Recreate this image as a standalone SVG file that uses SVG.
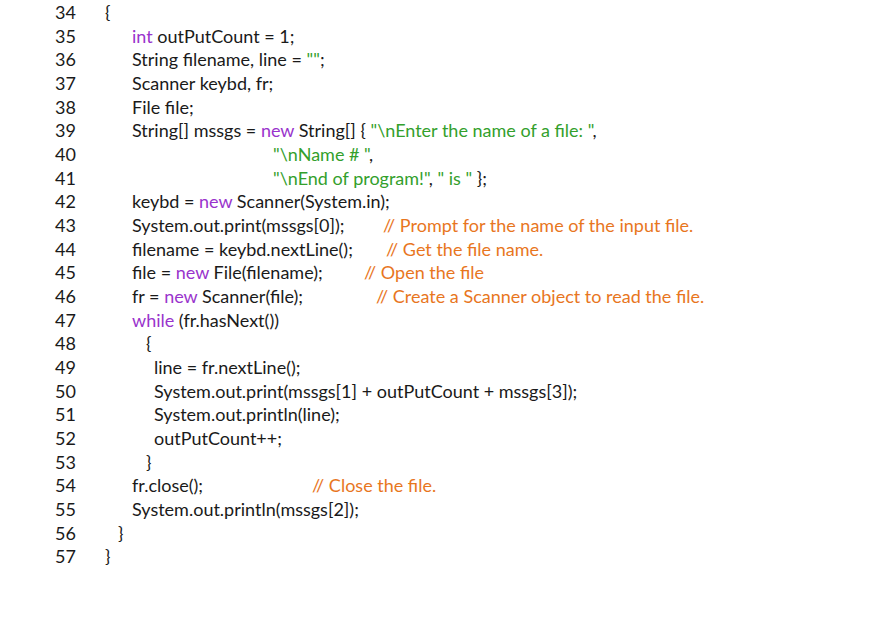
<svg xmlns="http://www.w3.org/2000/svg" width="869" height="632" viewBox="0 0 869 632">
<style>
text{font-family:Lato,"Open Sans",sans-serif;font-size:18px;fill:#1a1a1a;white-space:pre}
.k{fill:#9933cc}.s{fill:#33a02c}.c{fill:#e8761e}
</style>
<rect width="869" height="632" fill="#fff"/>
<g id="numbers">
<text x="55" y="19">34</text><text x="55" y="43">35</text><text x="55" y="66">36</text><text x="55" y="90">37</text><text x="55" y="114">38</text><text x="55" y="137">39</text><text x="55" y="161">40</text><text x="55" y="185">41</text><text x="55" y="208">42</text><text x="55" y="232">43</text><text x="55" y="256">44</text><text x="55" y="279">45</text><text x="55" y="303">46</text><text x="55" y="327">47</text><text x="55" y="350">48</text><text x="55" y="374">49</text><text x="55" y="398">50</text><text x="55" y="421">51</text><text x="55" y="445">52</text><text x="55" y="469">53</text><text x="55" y="492">54</text><text x="55" y="516">55</text><text x="55" y="540">56</text><text x="55" y="563">57</text>
</g>
<g id="code">
<text x="105" y="19">{</text>
<text x="132" y="43"><tspan class="k">int</tspan> outPutCount = 1;</text>
<text x="132" y="66">String filename, line = <tspan class="s">""</tspan>;</text>
<text x="132" y="90">Scanner keybd, fr;</text>
<text x="132" y="114">File file;</text>
<text x="132" y="137">String[] mssgs = <tspan class="k">new</tspan> String[] { <tspan class="s">"\nEnter the name of a file: "</tspan>,</text>
<text x="273" y="161"><tspan class="s">"\nName # "</tspan>,</text>
<text x="273" y="185"><tspan class="s">"\nEnd of program!"</tspan>, <tspan class="s">" is "</tspan> };</text>
<text x="132" y="208">keybd = <tspan class="k">new</tspan> Scanner(System.in);</text>
<text x="132" y="232">System.out.print(mssgs[0]);</text><text class="c" x="383" y="232">// Prompt for the name of the input file.</text>
<text x="132" y="256">filename = keybd.nextLine();</text><text class="c" x="386" y="256">// Get the file name.</text>
<text x="132" y="279">file = <tspan class="k">new</tspan> File(filename);</text><text class="c" x="364" y="279">// Open the file</text>
<text x="132" y="303">fr = <tspan class="k">new</tspan> Scanner(file);</text><text class="c" x="376" y="303">// Create a Scanner object to read the file.</text>
<text x="132" y="327"><tspan class="k">while</tspan> (fr.hasNext())</text>
<text x="146" y="350">{</text>
<text x="154" y="374">line = fr.nextLine();</text>
<text x="154" y="398">System.out.print(mssgs[1] + outPutCount + mssgs[3]);</text>
<text x="154" y="421">System.out.println(line);</text>
<text x="154" y="445">outPutCount++;</text>
<text x="146" y="469">}</text>
<text x="132" y="492">fr.close();</text><text class="c" x="312" y="492">// Close the file.</text>
<text x="132" y="516">System.out.println(mssgs[2]);</text>
<text x="118" y="540">}</text>
<text x="105" y="563">}</text>
</g>
</svg>
